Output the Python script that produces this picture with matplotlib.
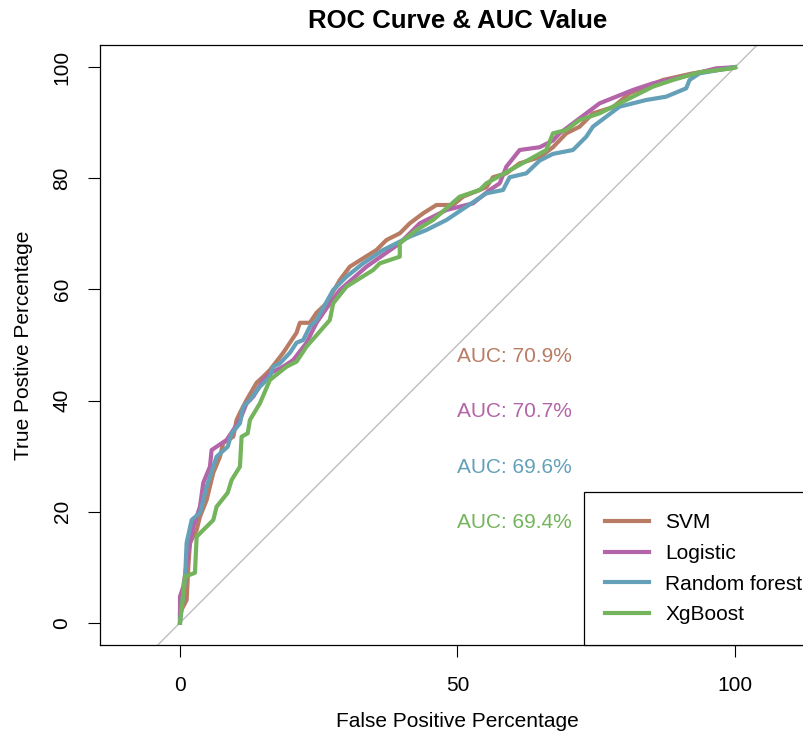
import matplotlib
matplotlib.use('Agg')
import matplotlib.pyplot as plt

plt.rcParams['font.family'] = ['Liberation Sans', 'DejaVu Sans']

# ROC curve vertices (false positive %, true positive %)
svm_fpr = [0, 0, 1.2, 1.5, 1.8, 3.0, 3.6, 4.8, 6.0, 7.2, 7.8, 9.6, 10.2, 10.8, 12.0, 13.8,
           15.0, 16.2, 18.6, 19.8, 21.0, 21.6, 23.4, 24.6, 26.4, 28.8, 30.6, 35.4, 37.2, 39.6,
           41.4, 43.8, 46.2, 49.2, 51.0, 55.2, 56.4, 58.8, 61.2, 64.8, 67.2, 69.6, 72.0, 74.4,
           78.0, 81.0, 87.0, 92.4, 100]
svm_tpr = [0, 1.8, 4.1, 10.0, 14.4, 16.7, 19.1, 22.1, 27.0, 29.9, 32.4, 33.5, 36.5, 37.8, 40.1,
           43.2, 44.3, 45.5, 48.6, 50.4, 52.2, 54.0, 54.0, 55.8, 57.5, 61.7, 64.1, 67.1, 68.9,
           70.1, 71.9, 73.7, 75.2, 75.2, 76.7, 78.4, 80.2, 80.9, 82.7, 83.8, 85.6, 88.1, 89.3,
           91.7, 92.8, 95.3, 97.7, 98.9, 100]

log_fpr = [0, 0, 0.6, 1.5, 2.4, 3.6, 4.2, 5.4, 5.7, 8.4, 9.6, 10.8, 12.0, 13.2, 15.0, 16.2,
           18.6, 20.4, 22.8, 24.6, 26.4, 28.8, 33.6, 39.6, 43.2, 48.0, 52.8, 55.8, 57.6, 58.8,
           61.2, 64.8, 67.2, 68.4, 73.2, 75.6, 78.6, 81.6, 85.2, 90.6, 96.6, 100]
log_tpr = [0, 4.7, 6.5, 12.6, 17.3, 20.9, 25.2, 28.1, 31.1, 32.9, 34.7, 36.5, 39.5, 40.7, 43.7,
           44.9, 46.1, 47.3, 50.4, 54.0, 56.6, 59.9, 64.1, 68.3, 71.9, 74.3, 75.5, 77.9, 79.1,
           82.1, 85.1, 85.6, 86.8, 88.1, 91.7, 93.5, 94.7, 95.9, 97.1, 98.3, 99.8, 100]

rf_fpr = [0, 0.9, 1.2, 2.1, 3.6, 4.8, 6.6, 8.6, 9.3, 10.8, 11.4, 12.6, 14.4, 16.2, 16.8, 18.0,
          19.8, 21.0, 22.2, 23.4, 24.6, 27.6, 30.0, 33.0, 36.6, 41.4, 44.4, 48.0, 51.6, 55.2,
          58.2, 59.4, 62.4, 64.8, 67.2, 70.8, 73.2, 74.4, 76.8, 79.2, 84.0, 87.6, 91.2, 91.8,
          93.6, 100]
rf_tpr = [0, 7.7, 14.4, 18.5, 19.8, 24.5, 29.9, 31.7, 34.1, 35.9, 38.9, 40.1, 42.5, 44.3, 46.1,
          46.7, 48.6, 50.4, 50.9, 53.3, 54.5, 59.9, 62.3, 64.7, 67.1, 69.5, 70.7, 72.5, 74.9,
          77.3, 77.9, 80.2, 80.9, 83.2, 84.4, 85.1, 87.5, 89.3, 91.1, 92.9, 94.1, 94.7, 96.2,
          97.7, 98.9, 100]

xgb_fpr = [0, 0.9, 2.7, 3.0, 6.0, 6.6, 8.6, 9.3, 10.8, 11.1, 12.2, 12.6, 14.4, 16.2, 19.2, 21.0,
           22.8, 27.0, 27.6, 30.0, 34.8, 36.0, 39.6, 39.6, 42.6, 45.6, 50.4, 54.0, 55.2, 60.6,
           66.0, 67.2, 69.6, 72.0, 75.6, 79.2, 81.6, 85.2, 88.8, 93.6, 99.5, 100]
xgb_tpr = [0, 8.3, 9.0, 15.5, 18.5, 20.9, 23.4, 25.7, 28.1, 33.5, 34.1, 36.5, 39.5, 43.7, 46.1,
           47.0, 49.7, 54.5, 57.5, 60.5, 63.5, 64.7, 65.9, 68.3, 70.7, 72.5, 76.7, 77.9, 79.1,
           82.1, 85.1, 88.1, 88.7, 90.5, 91.7, 93.5, 94.7, 96.5, 97.7, 99.1, 99.8, 100]

models = ['SVM', 'Logistic', 'Random forest', 'XgBoost']
auc_values = [70.9, 70.7, 69.6, 69.4]
colors = ['#B87C64', '#B464A8', '#64A0B8', '#74B45C']
curves = [(svm_fpr, svm_tpr), (log_fpr, log_tpr), (rf_fpr, rf_tpr), (xgb_fpr, xgb_tpr)]
auc_text_y = [48, 38, 28, 18]

fig = plt.figure(figsize=(8.04, 7.39), dpi=100)
# plot region runs past the right edge of the image, as in the original
ax = fig.add_axes([100 / 804, 94 / 739, 715 / 804, 600 / 739])

ax.axline((0, 0), (100, 100), color='#BEBEBE', lw=1, zorder=1)

for (fpr, tpr), name, col in zip(curves, models, colors):
    ax.plot(fpr, tpr, color=col, lw=3, label=name, zorder=2)

for auc, col, yy in zip(auc_values, colors, auc_text_y):
    ax.text(50, yy, f'AUC: {auc}%', color=col, fontsize=15, ha='left', va='center')

ax.set_xlim(-14.41, 114.41)
ax.set_ylim(-4, 104)
ax.set_xticks([0, 50, 100])
ax.set_yticks([0, 20, 40, 60, 80, 100])
ax.tick_params(axis='both', direction='out', length=8.5, width=0.8, labelsize=15)
ax.tick_params(axis='x', pad=14)
ax.tick_params(axis='y', pad=12)
for lab in ax.get_yticklabels():
    lab.set_rotation(90)
    lab.set_va('center')
for sp in ax.spines.values():
    sp.set_linewidth(0.9)
    sp.set_color('black')

ax.set_title('ROC Curve & AUC Value', fontsize=18.5, fontweight='bold', pad=12)
ax.set_xlabel('False Positive Percentage', fontsize=15, labelpad=12)
ax.set_ylabel('True Postive Percentage', fontsize=15, labelpad=14)

leg = ax.legend(loc='lower left', bbox_to_anchor=((584 - 100) / 715, 0), fontsize=15,
                frameon=True, fancybox=False, edgecolor='black', framealpha=1,
                borderaxespad=0, handlelength=2.1, handletextpad=0.8,
                labelspacing=0.56, borderpad=1.0)
leg.get_frame().set_linewidth(0.9)

fig.savefig('out.png', dpi=100)
